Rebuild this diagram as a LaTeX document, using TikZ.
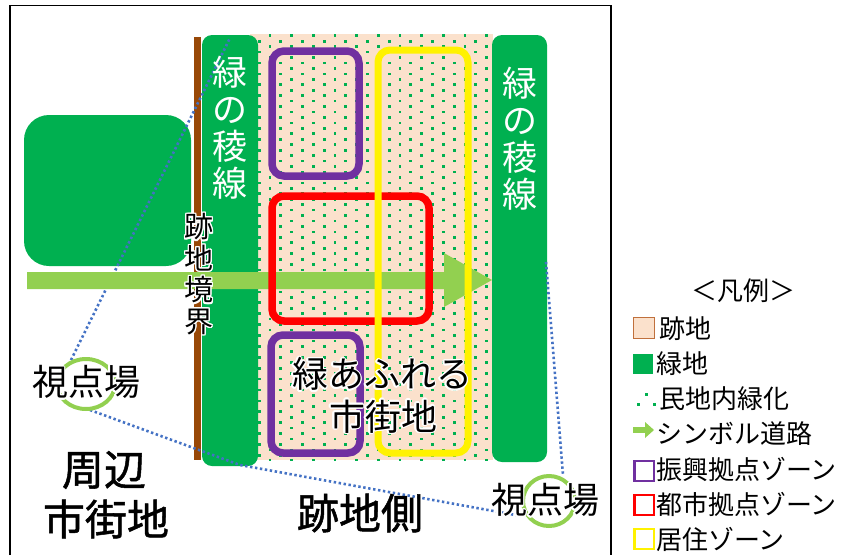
\documentclass[tikz,border=0pt]{standalone}
\usepackage{fontspec}
\setmainfont{Noto Sans CJK JP}
\newfontfamily\jpbold[FakeBold=1.2]{Noto Sans CJK JP}
\usepackage{contour}
\contourlength{1.4pt}
\newcommand\halo[1]{\contour{white}{#1}}
\definecolor{grn}{HTML}{00B050}
\definecolor{lgrn}{HTML}{92D050}
\definecolor{tanc}{HTML}{FBE1CC}
\definecolor{brn}{HTML}{984807}
\definecolor{lbrn}{HTML}{C0703C}
\definecolor{purp}{HTML}{7030A0}
\definecolor{dblue}{HTML}{4472C4}
\tikzset{
  zone/.style={line width=7.5pt, rounded corners=12pt},
  viewline/.style={dblue, line width=2.6pt, dash pattern=on 2.4pt off 2.6pt},
  strip/.style={fill=grn, rounded corners=10pt},
  striptext/.style={white, align=center, inner sep=0pt, font=\fontsize{35}{37}\selectfont},
  vptext/.style={inner sep=0pt, font=\fontsize{36}{40}\selectfont},
  bigtext/.style={inner sep=0pt, align=center, font=\jpbold\fontsize{42}{49}\selectfont},
  legtext/.style={anchor=west, inner sep=0pt, font=\fontsize{26}{28}\selectfont},
  legbox/.style={line width=2.5pt, fill=white},
}
\begin{document}
\begin{tikzpicture}[x=1pt, y=-1pt]
\useasboundingbox (0,0) rectangle (846,555);
% frame
\draw[line width=1.8pt] (10,555) -- (10,5.5) -- (611,5.5) -- (611,555);
% site area (tan) with dots
\fill[tanc] (250,34) rectangle (493,460);
\begin{scope}
\clip (250,34) rectangle (493,460);
\foreach \i in {0,...,78}{
  \pgfmathsetmacro\yy{35.7+5.45*\i}
  \pgfmathsetmacro\xo{259.17+10.833*(1-mod(\i,2))}
  \foreach \j in {-1,...,11}{
    \fill[grn] (\xo+21.667*\j-1.35,\yy-1.35) rectangle ++(2.7,2.7);
  }
}
\end{scope}
% green areas
\fill[grn, rounded corners=25pt] (24,115) rectangle (191,266);
\fill[strip] (202,35) rectangle (258,466);
\fill[strip] (492,35) rectangle (547,462);
% site boundary
\fill[brn] (194,37) rectangle (201,460);
% view lines
\coordinate (vl1a) at (71,360);
\coordinate (vl1b) at (230,38);
\coordinate (vl2a) at (90,410);
\coordinate (vl2m) at (240,465);
\coordinate (vl2b) at (521,516);
\coordinate (vl3a) at (546,262);
\coordinate (vl3b) at (563,475);
\draw[viewline] (vl1a) -- (vl1b);
\draw[viewline] (vl2a) -- (vl2m) -- (vl2b);
\draw[viewline] (vl3a) -- (vl3b);
% symbol road arrow
\fill[lgrn] (27,272) -- (444,272) -- (444,253) -- (492,280) -- (444,307) -- (444,289) -- (27,289) -- cycle;
% zones
\draw[zone, draw=purp] (272,51) rectangle (359,176);
\draw[zone, draw=red] (272,196) rectangle (429,321);
\draw[zone, draw=purp] (271,335) rectangle (360,453);
\draw[zone, draw=yellow, line width=7pt] (378,50) rectangle (468,453);
% viewpoint circles
\draw[lgrn, line width=4pt] (86,384) ellipse [x radius=29, y radius=25];
\draw[lgrn, line width=4pt] (549,501) ellipse [x radius=26, y radius=25];
% texts
\node[striptext] (ridgeL) at (230,128) {緑\\の\\稜\\線};
\node[striptext] (ridgeR) at (520,139) {緑\\の\\稜\\線};
\node[inner sep=0pt, align=center, font=\fontsize{29}{31.5}\selectfont] (bound) at (199,275) {\halo{跡}\\\halo{地}\\\halo{境}\\\halo{界}};
\node[vptext] (vpL) at (86,383) {\halo{視点場}};
\node[vptext] (vpR) at (545,501) {\halo{視点場}};
\node[inner sep=0pt, font=\fontsize{36}{40}\selectfont] (green1) at (382,375) {\halo{緑あふれる}};
\node[inner sep=0pt, font=\fontsize{36}{40}\selectfont] (green2) at (383,417) {\halo{市街地}};
\node[bigtext] (surr1) at (104,470) {周辺};
\node[bigtext] (surr2) at (106,519) {市街地};
\node[bigtext] (siteside) at (360,513) {跡地側};
% legend
\node[inner sep=0pt, font=\fontsize{26}{28}\selectfont] (legtitle) at (743,291) {＜凡例＞};
\draw[draw=lbrn, fill=tanc, line width=1pt] (633.5,317.5) rectangle (654.5,338.5);
\node[legtext] (l1) at (659,329) {跡地};
\fill[grn] (633,354) rectangle (653,374);
\node[legtext] (l2) at (656,364) {緑地};
\fill[grn] (636.5,402.5) rectangle ++(3,3);
\fill[grn] (644.5,392.5) rectangle ++(3,3);
\fill[grn] (652.5,402.5) rectangle ++(3,3);
\node[legtext] (l3) at (659,399) {民地内緑化};
\fill[lgrn] (633,427) rectangle (646,433);
\fill[lgrn] (645,422) -- (654,430) -- (645,438) -- cycle;
\node[legtext] (l4) at (656,434) {シンボル道路};
\draw[legbox, draw=purp] (634.5,461) rectangle (654,481);
\node[legtext] (l5) at (656,469) {振興拠点ゾーン};
\draw[legbox, draw=red] (634.5,495) rectangle (654,515);
\node[legtext] (l6) at (656,504) {都市拠点ゾーン};
\draw[legbox, draw=yellow] (634.5,529) rectangle (654,549);
\node[legtext] (l7) at (656,539) {居住ゾーン};
\end{tikzpicture}
\end{document}
